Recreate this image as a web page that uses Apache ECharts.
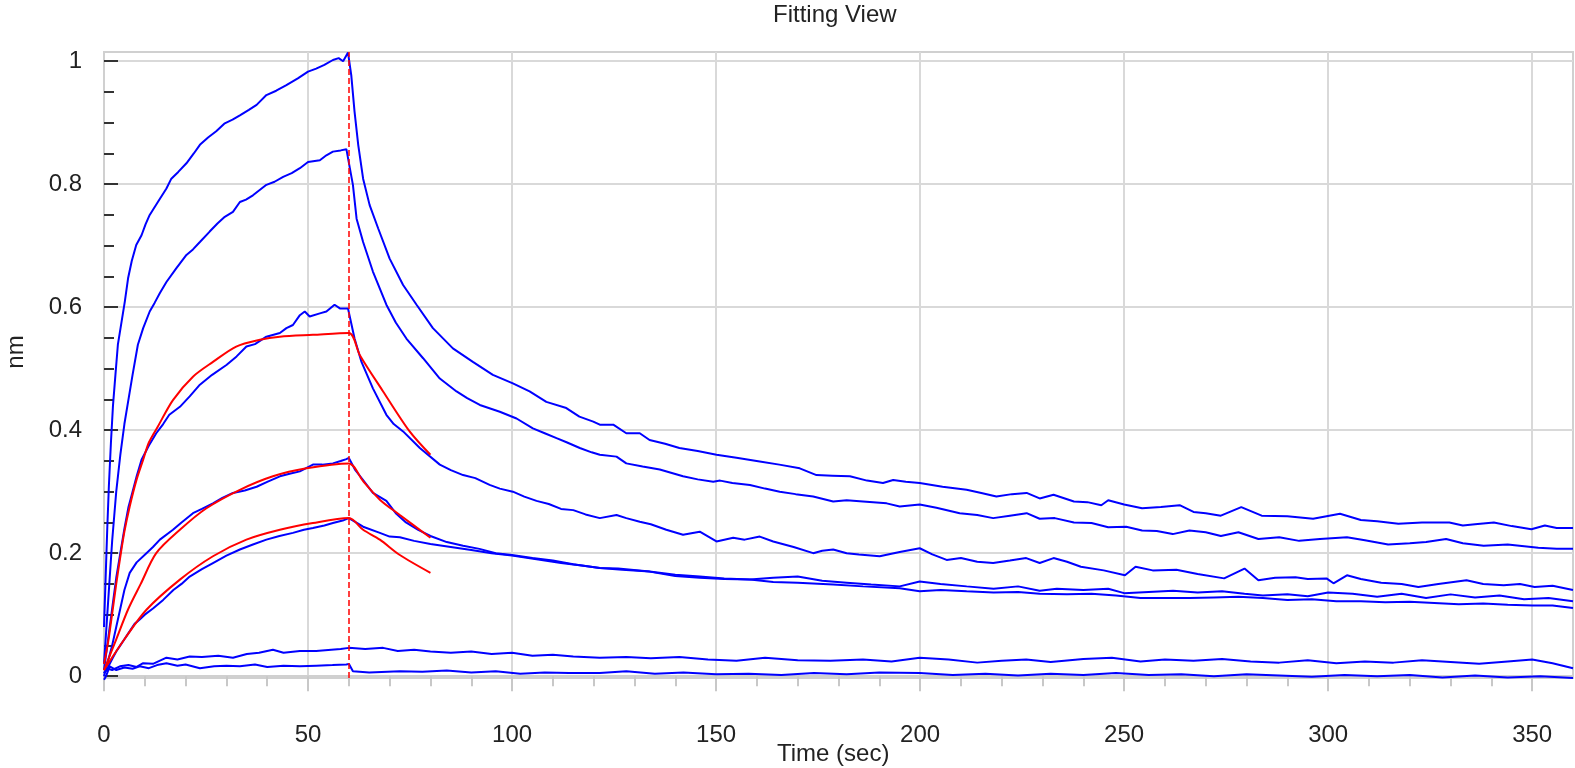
<!DOCTYPE html>
<html>
<head>
<meta charset="utf-8">
<title>Fitting View</title>
<script src="https://cdn.jsdelivr.net/npm/echarts@6/dist/echarts.min.js"></script>
<style>
  html, body { margin: 0; padding: 0; background: #fff; }
  #chart { width: 1575px; height: 768px; }
</style>
</head>
<body>
<div id="chart"></div>
<script>
// tick values
var xTicks = [0, 50, 100, 150, 200, 250, 300, 350];
var yTicks = [0, 0.2, 0.4, 0.6, 0.8, 1];

// measured curves, [time (sec), nm]
var blue1 = [[0,0.08],[0.4,0.16],[0.8,0.24],[1.2,0.31],[1.7,0.38],[2.2,0.44],[2.8,0.49],[3.4,0.539],[4.3,0.576],[5.1,0.609],[5.9,0.647],[6.8,0.675],[7.9,0.701],[9.2,0.717],[10.2,0.735],[11.2,0.750],[13.2,0.771],[15.3,0.793],[16.5,0.809],[18.2,0.820],[20.2,0.834],[22,0.850],[23.5,0.864],[25.5,0.876],[27.5,0.886],[29.6,0.899],[31.5,0.905],[33.3,0.912],[35.5,0.921],[37.4,0.929],[39.8,0.945],[42.2,0.952],[44.7,0.961],[47.5,0.972],[50,0.983],[52,0.988],[54,0.994],[56.1,1.002],[57.5,1.005],[58.6,1.0],[59.8,1.014],
  [60.6,0.977],[61.4,0.918],[62.3,0.864],[63.5,0.809],[65.1,0.766],[67.2,0.728],[70,0.679],[73.3,0.636],[76.6,0.604],[80.6,0.566],[85.5,0.533],[90.4,0.511],[95.3,0.490],[100.2,0.476],[104.3,0.463],[108.4,0.446],[113.3,0.436],[116.5,0.422],[119.9,0.414],[121.5,0.409],[124.8,0.409],[128,0.395],[131.3,0.395],[133.7,0.384],[137.5,0.378],[141,0.371],[145.5,0.366],[150.1,0.360],[155,0.355],[160.7,0.349],[165.5,0.344],[170.5,0.338],[174.6,0.327],[178.5,0.326],[182.8,0.325],[187,0.318],[190.9,0.314],[193.4,0.319],[196.5,0.316],[199.9,0.314],[205.5,0.308],[211.4,0.303],[215,0.298],[218.7,0.292],[222.5,0.296],[226.1,0.298],[229.3,0.289],[232.7,0.295],[237.7,0.284],[241,0.283],[244.4,0.278],[246.1,0.286],[250,0.279],[254.4,0.273],[259,0.275],[263.6,0.278],[267,0.267],[270,0.265],[273.7,0.261],[278.7,0.275],[283.7,0.261],[290,0.260],[296.3,0.256],[302.9,0.264],[308,0.254],[312,0.252],[317.2,0.248],[323,0.250],[329.7,0.250],[333,0.245],[336,0.247],[340.6,0.250],[345,0.244],[349.8,0.239],[353.1,0.245],[356,0.241],[360,0.241]];

var blue2 = [[0,0.02],[0.5,0.07],[1,0.12],[1.5,0.17],[2,0.22],[2.5,0.26],[3,0.30],[3.5,0.33],[4,0.36],[5,0.41],[6,0.45],[7,0.49],[8.3,0.539],[9.6,0.566],[11.2,0.593],[12.4,0.607],[13.7,0.623],[15.3,0.641],[17.7,0.663],[20.2,0.685],[21.8,0.694],[23.5,0.706],[25.9,0.723],[27.8,0.736],[29.6,0.747],[31.6,0.755],[33.3,0.771],[34.8,0.775],[36.5,0.782],[39.8,0.799],[41.8,0.804],[43.9,0.812],[46,0.818],[48,0.826],[50,0.836],[52.9,0.839],[54.5,0.847],[56.1,0.853],[58,0.855],[59.4,0.857],[59.8,0.86],
  [61,0.799],[61.9,0.744],[63.5,0.706],[65.9,0.658],[69.2,0.604],[71.5,0.575],[74.1,0.549],[78.2,0.517],[82.3,0.484],[86.4,0.463],[89,0.452],[92.1,0.441],[97,0.430],[101.1,0.419],[105.1,0.403],[108,0.395],[110.9,0.387],[113.5,0.380],[116.6,0.371],[119.5,0.364],[121.5,0.360],[125.6,0.357],[128,0.346],[132,0.341],[136.2,0.336],[141.9,0.325],[145.5,0.320],[149.3,0.316],[151,0.318],[154,0.314],[158.3,0.311],[162,0.305],[165.6,0.300],[169.5,0.296],[173.8,0.292],[178.7,0.284],[182,0.286],[186,0.284],[191.8,0.281],[195,0.276],[199.9,0.279],[204,0.274],[209.7,0.265],[214,0.262],[217.9,0.257],[222,0.261],[226.1,0.265],[229.3,0.256],[233,0.257],[237.7,0.250],[242,0.249],[246.1,0.242],[250.5,0.243],[254.4,0.237],[258,0.236],[261.9,0.231],[266,0.237],[270,0.234],[273.7,0.228],[278,0.234],[282.9,0.223],[288,0.226],[292.9,0.220],[298,0.223],[304.6,0.226],[309,0.221],[314.7,0.214],[320,0.216],[324,0.218],[328.9,0.223],[333,0.216],[338.1,0.212],[344,0.214],[351.5,0.209],[356,0.207],[360,0.207]];

var blue3 = [[0,0.01],[1,0.06],[2,0.11],[3,0.16],[4,0.20],[5,0.24],[6,0.275],[7,0.30],[8,0.325],[9.2,0.352],[11,0.375],[12.8,0.395],[14.5,0.41],[16,0.425],[18.6,0.438],[21,0.455],[23.5,0.474],[26.5,0.49],[30,0.506],[32.5,0.52],[34.9,0.536],[37,0.54],[39.8,0.552],[43.1,0.558],[44.7,0.566],[46.3,0.571],[48,0.587],[49.2,0.593],[50.4,0.585],[52.9,0.590],[54.5,0.593],[56.5,0.604],[57.8,0.598],[59.8,0.598],
  [61.4,0.549],[63.1,0.511],[65.9,0.468],[69.2,0.425],[71,0.41],[73.3,0.398],[77.4,0.371],[82.3,0.344],[85,0.335],[88,0.327],[91,0.322],[94.5,0.311],[97,0.305],[100.2,0.300],[103,0.292],[106,0.285],[109,0.280],[112,0.272],[115,0.270],[118,0.263],[121.5,0.257],[125.6,0.262],[128,0.257],[131.3,0.251],[134,0.247],[137.8,0.238],[141.9,0.230],[146,0.235],[150.1,0.219],[154.2,0.225],[157,0.222],[160.7,0.227],[164,0.219],[169,0.210],[173.8,0.200],[176,0.204],[178.7,0.206],[182,0.200],[185,0.198],[190.1,0.195],[195,0.202],[199.9,0.208],[203,0.198],[206.5,0.189],[210,0.192],[214,0.186],[217.9,0.184],[222,0.188],[226,0.192],[229.3,0.184],[232.7,0.192],[236,0.186],[239.4,0.178],[245,0.172],[250.2,0.164],[252.8,0.178],[257,0.172],[262.8,0.173],[268,0.166],[274.5,0.159],[279.5,0.175],[282.9,0.156],[287,0.160],[292,0.161],[295,0.158],[299.6,0.159],[301.3,0.151],[304.6,0.164],[308,0.158],[313,0.152],[318,0.150],[322.1,0.145],[327,0.150],[333.9,0.156],[338,0.150],[343,0.148],[347,0.150],[350.6,0.145],[355,0.147],[360,0.140]];

var blue4 = [[0,0.0],[1,0.025],[2,0.05],[3,0.08],[4,0.11],[5,0.14],[6.3,0.168],[8,0.185],[10.4,0.200],[12,0.21],[13.7,0.222],[16.9,0.238],[19,0.25],[21.8,0.265],[24,0.272],[26.7,0.281],[29,0.29],[31.6,0.298],[34.5,0.302],[37.4,0.308],[40,0.316],[43.1,0.325],[45.5,0.329],[48,0.333],[51.2,0.344],[53.5,0.344],[56.1,0.346],[58,0.350],[59.4,0.353],[60,0.355],
  [61.5,0.336],[63.5,0.319],[65.9,0.298],[69.2,0.285],[71.5,0.265],[74,0.25],[77,0.238],[80,0.228],[84,0.218],[88,0.212],[92,0.207],[96,0.200],[100,0.197],[105,0.192],[110,0.188],[115,0.182],[121.5,0.176],[126,0.175],[133.7,0.170],[140,0.165],[146,0.162],[152,0.159],[158.3,0.157],[164,0.160],[170,0.162],[176,0.155],[182,0.152],[188,0.149],[195,0.146],[199.9,0.154],[205,0.150],[211.4,0.146],[218,0.142],[224,0.146],[229.3,0.139],[233.5,0.142],[240,0.140],[246.1,0.142],[250,0.135],[256,0.137],[262,0.139],[268,0.136],[274,0.138],[279.5,0.134],[284,0.131],[290,0.133],[295,0.130],[300,0.136],[306,0.134],[312,0.129],[318,0.134],[324,0.127],[330,0.133],[336,0.128],[342,0.131],[348,0.125],[354,0.127],[360,0.122]];

var blue5 = [[0,0.005],[1,0.015],[2,0.028],[3,0.04],[4,0.05],[5,0.06],[6,0.07],[7.5,0.085],[8.75,0.092],[10,0.10],[12,0.11],[14.5,0.124],[17,0.14],[19,0.15],[21,0.162],[24,0.174],[26.7,0.184],[30,0.196],[33.3,0.206],[36.5,0.214],[39.8,0.222],[43,0.228],[46.3,0.233],[49,0.238],[51.2,0.241],[54,0.245],[56.1,0.249],[58.5,0.253],[60,0.257],
  [63.5,0.243],[67.6,0.233],[70,0.227],[72.5,0.226],[76,0.22],[80,0.215],[85,0.21],[90,0.205],[95,0.200],[100,0.196],[106,0.19],[112,0.184],[117,0.18],[121.5,0.176],[127,0.173],[133.7,0.170],[140,0.163],[146,0.160],[152,0.158],[158.3,0.157],[164,0.153],[170,0.152],[178.7,0.149],[186,0.146],[195,0.143],[199.9,0.138],[205,0.140],[211.4,0.138],[218,0.136],[224,0.137],[229.3,0.134],[236,0.133],[242,0.134],[248,0.131],[254,0.127],[260,0.127],[266,0.127],[272,0.128],[278,0.129],[284,0.127],[290,0.124],[296,0.125],[302,0.122],[308,0.122],[314,0.120],[320,0.121],[326,0.119],[332,0.117],[338,0.118],[344,0.116],[350,0.115],[355,0.115],[360,0.111]];

var blue6 = [[0,0.005],[1,0.012],[2,0.01],[3.9,0.016],[6,0.018],[8,0.015],[9.6,0.021],[12,0.02],[15.3,0.030],[18,0.027],[21,0.032],[24,0.031],[28,0.033],[31.6,0.030],[35,0.036],[38,0.038],[41.4,0.043],[44,0.038],[48,0.041],[52,0.041],[55.7,0.043],[58,0.044],[60,0.046],[64,0.044],[68.4,0.046],[72,0.041],[76,0.043],[80,0.040],[85,0.038],[90,0.040],[95,0.036],[100,0.038],[105,0.033],[110,0.035],[115,0.032],[121.5,0.030],[128,0.031],[134,0.029],[141,0.031],[148,0.027],[155,0.025],[162,0.030],[170,0.026],[178,0.025],[186,0.027],[193,0.024],[199.9,0.030],[207,0.027],[214,0.022],[220,0.025],[226,0.027],[232,0.023],[240,0.028],[247,0.030],[254,0.024],[260,0.027],[267,0.025],[274,0.028],[281,0.024],[288,0.022],[295,0.026],[302,0.021],[309,0.024],[316,0.022],[323,0.026],[330,0.023],[337,0.020],[344,0.024],[350,0.027],[355,0.021],[360,0.013]];

var blue7 = [[0,-0.006],[0.5,0.0],[1.4,0.016],[3,0.01],[5,0.014],[7,0.012],[8.75,0.016],[11,0.013],[13,0.018],[15.3,0.021],[18,0.017],[20,0.019],[23.5,0.013],[27,0.016],[30,0.017],[33.3,0.016],[37,0.019],[40,0.015],[44,0.017],[48,0.016],[52,0.017],[56,0.018],[59.4,0.019],[60,0.02],[61,0.008],[65,0.006],[72.5,0.008],[78,0.007],[84,0.009],[90,0.006],[96,0.008],[102,0.004],[108,0.006],[114,0.005],[121.5,0.005],[128,0.008],[135,0.004],[142,0.006],[150,0.003],[158,0.004],[166,0.002],[174,0.005],[182,0.003],[190,0.006],[199.9,0.005],[208,0.002],[216,0.004],[224,0.001],[232,0.004],[240,0.002],[248,0.005],[256,0.002],[264,0.003],[272,0.000],[280,0.003],[288,0.001],[296,-0.001],[304,0.002],[312,0.000],[320,0.002],[328,-0.002],[336,0.001],[344,-0.002],[352,0.000],[360,-0.003]];

// fitted curves (association 0-60 s, dissociation 60-80 s)
var fit1 = [[0,0.02],[1,0.055],[1.8,0.092],[3,0.15],[3.9,0.19],[5,0.235],[6.3,0.276],[8,0.32],[9.6,0.352],[11,0.38],[13.2,0.406],[16.9,0.449],[21.8,0.487],[26.7,0.511],[32.4,0.536],[38.2,0.547],[43.1,0.552],[51.2,0.555],[60,0.558],
  [62.7,0.522],[68.4,0.463],[74.9,0.398],[80,0.36]];
var fit2 = [[0,0.01],[3,0.06],[6,0.11],[9,0.15],[12.8,0.2],[18.6,0.238],[25.1,0.273],[33.3,0.303],[41.4,0.325],[49.6,0.338],[60,0.346],
  [63.5,0.317],[67.6,0.287],[72.5,0.262],[80,0.225]];
var fit3 = [[0,0.01],[5,0.06],[10.4,0.108],[18.6,0.157],[26.7,0.195],[34.9,0.222],[43.1,0.238],[51.2,0.249],[60,0.257],
  [63.5,0.238],[67.6,0.222],[72.5,0.197],[80,0.168]];

var switchTime = 60;

var FONT = 'Liberation Sans, Arial, sans-serif';
var FS = 24;
var chart = echarts.init(document.getElementById('chart'));

var blueSets = [blue1, blue2, blue3, blue4, blue5, blue6, blue7];
var fitSets = [fit1, fit2, fit3];
var series = [];
blueSets.forEach(function (d, i) {
  series.push({
    name: 'data' + (i + 1),
    type: 'line',
    data: d,
    showSymbol: false,
    clip: false,
    lineStyle: { color: '#0000ff', width: 2 },
    itemStyle: { color: '#0000ff' },
    z: 2
  });
});
fitSets.forEach(function (d, i) {
  series.push({
    name: 'fit' + (i + 1),
    type: 'line',
    data: d,
    showSymbol: false,
    smooth: 0.3,
    lineStyle: { color: '#ff0000', width: 2 },
    itemStyle: { color: '#ff0000' },
    z: 3
  });
});
series[series.length - 1].markLine = {
  silent: true,
  symbol: 'none',
  label: { show: false },
  lineStyle: { color: '#ff0000', type: [6, 3], width: 1.5 },
  data: [{ xAxis: switchTime }]
};

var textBase = { fontFamily: FONT, fontSize: FS, fontWeight: 'normal', color: '#222' };

chart.setOption({
  animation: false,
  backgroundColor: '#ffffff',
  textStyle: { fontFamily: FONT },
  title: [
    { text: 'Fitting View', left: 773, top: 3, padding: 0, textStyle: textBase },
    // x axis title, placed below the tick labels
    { text: 'Time (sec)', left: 777, top: 742, padding: 0, textStyle: textBase }
  ],
  grid: {
    left: 104, right: 2, top: 52, bottom: 90,
    containLabel: false,
    outerBoundsMode: 'none',
    show: true,
    borderColor: '#d0d0d0',
    borderWidth: 2
  },
  xAxis: {
    type: 'value',
    min: 0,
    max: 360,
    interval: 50,
    axisLine: { show: true, lineStyle: { color: '#d0d0d0', width: 2 } },
    axisTick: { show: true, length: 15, customValues: xTicks, lineStyle: { color: '#c8c8c8', width: 2 } },
    minorTick: { show: true, splitNumber: 5, length: 10, lineStyle: { color: '#c8c8c8', width: 2 } },
    axisLabel: { customValues: xTicks, margin: 45, fontFamily: FONT, fontSize: FS, color: '#222' },
    splitLine: { show: true, lineStyle: { color: '#d9d9d9', width: 2 } }
  },
  yAxis: {
    type: 'value',
    min: -0.003,
    max: 1.015,
    name: 'nm',
    nameLocation: 'middle',
    nameGap: 76,
    nameMoveOverlap: false,
    nameTextStyle: { fontFamily: FONT, fontSize: FS, color: '#222', padding: [0, 0, 0, 26] },
    axisLine: { show: true, lineStyle: { color: '#d0d0d0', width: 2 } },
    axisTick: { show: true, inside: true, length: 14, customValues: yTicks, lineStyle: { color: '#333', width: 2 } },
    minorTick: { show: true, splitNumber: 4, length: 10, lineStyle: { color: '#333', width: 2 } },
    axisLabel: { customValues: yTicks, margin: 22, fontFamily: FONT, fontSize: FS, color: '#222' },
    splitLine: { show: true, lineStyle: { color: '#d9d9d9', width: 2 } }
  },
  series: series
});
</script>
</body>
</html>
